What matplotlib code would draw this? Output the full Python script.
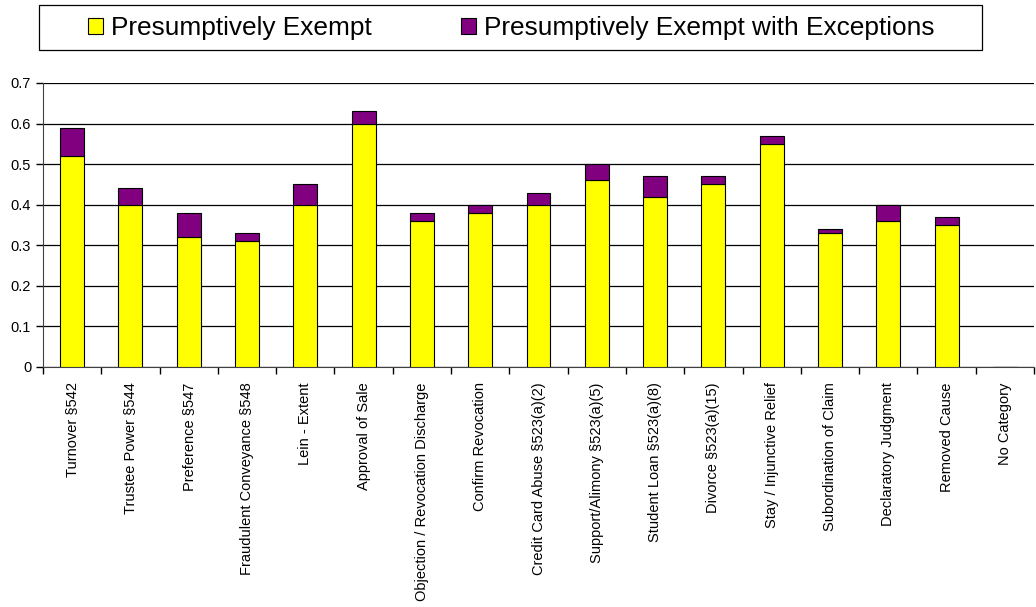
import numpy as np
import matplotlib.pyplot as plt
from matplotlib.patches import Rectangle

# ====================================
# DATA
# ====================================

categories = [
    "Turnover §542",
    "Trustee Power §544",
    "Preference §547",
    "Fraudulent Conveyance §548",
    "Lein - Extent",
    "Approval of Sale",
    "Objection / Revocation Discharge",
    "Confirm Revocation",
    "Credit Card Abuse §523(a)(2)",
    "Support/Alimony §523(a)(5)",
    "Student Loan §523(a)(8)",
    "Divorce §523(a)(15)",
    "Stay / Injunctive Relief",
    "Subordination of Claim",
    "Declaratory Judgment",
    "Removed Cause",
    "No Category",
]

exempt = [0.52, 0.40, 0.32, 0.31, 0.40, 0.60, 0.36, 0.38, 0.40,
          0.46, 0.42, 0.45, 0.55, 0.33, 0.36, 0.35, 0.0]
exempt_exceptions = [0.07, 0.04, 0.06, 0.02, 0.05, 0.03, 0.02, 0.02, 0.03,
                     0.04, 0.05, 0.02, 0.02, 0.01, 0.04, 0.02, 0.0]

yticks = [0, 0.1, 0.2, 0.3, 0.4, 0.5, 0.6, 0.7]
ytick_labels = ["0", "0.1", "0.2", "0.3", "0.4", "0.5", "0.6", "0.7"]

# ====================================
# FIGURE
# ====================================

plt.rcParams["font.family"] = ["Liberation Sans", "DejaVu Sans"]

W, H = 1036, 607
fig = plt.figure(figsize=(W / 100, H / 100), dpi=100)
ax = fig.add_axes([43 / W, 1 - 367 / H, (1034 - 43) / W, (367 - 83) / H])

x = np.arange(len(categories))
bar_w = 0.41

b1 = ax.bar(x, exempt, width=bar_w, color="#FFFF00",
            edgecolor="black", linewidth=0.8, zorder=3,
            label="Presumptively Exempt")
b2 = ax.bar(x, exempt_exceptions, width=bar_w, bottom=exempt,
            color="#800080", edgecolor="black", linewidth=0.8, zorder=3,
            label="Presumptively Exempt with Exceptions")

ax.set_xlim(-0.5, len(categories) - 0.5)
ax.set_ylim(0, 0.7)

ax.set_yticks(yticks)
ax.set_yticklabels(ytick_labels, fontsize=10.5)

# category boundary ticks
ax.set_xticks(np.arange(len(categories) + 1) - 0.5)
ax.set_xticklabels([])
ax.set_xticks(x, minor=True)
ax.set_xticklabels(categories, minor=True, rotation=90, fontsize=10.5)
ax.tick_params(axis="x", which="minor", length=0, pad=11)
ax.tick_params(axis="x", which="major", length=5, direction="out", width=1)
ax.tick_params(axis="y", length=5, direction="out", width=1)

ax.yaxis.grid(True, color="black", linewidth=0.9, zorder=0)
ax.set_axisbelow(True)

for side in ["top", "right"]:
    ax.spines[side].set_visible(False)
ax.spines["left"].set_color("#404040")
ax.spines["bottom"].set_color("#404040")

# ====================================
# LEGEND
# ====================================

# legend box drawn as its own rectangle
fig.patches.append(Rectangle((39 / W, 1 - 50 / H), (982 - 39) / W, 45 / H,
                             transform=fig.transFigure, facecolor="white",
                             edgecolor="black", linewidth=0.9))

leg = fig.legend(
    handles=[b1, b2],
    loc="center",
    bbox_to_anchor=(511 / W, 1 - 28 / H),
    ncol=2,
    fontsize=18.9,
    frameon=False,
    handlelength=0.57,
    handleheight=0.57,
    handletextpad=0.3,
    columnspacing=3.4,
    borderpad=0,
    borderaxespad=0,
)

fig.savefig("out.png", dpi=100)
